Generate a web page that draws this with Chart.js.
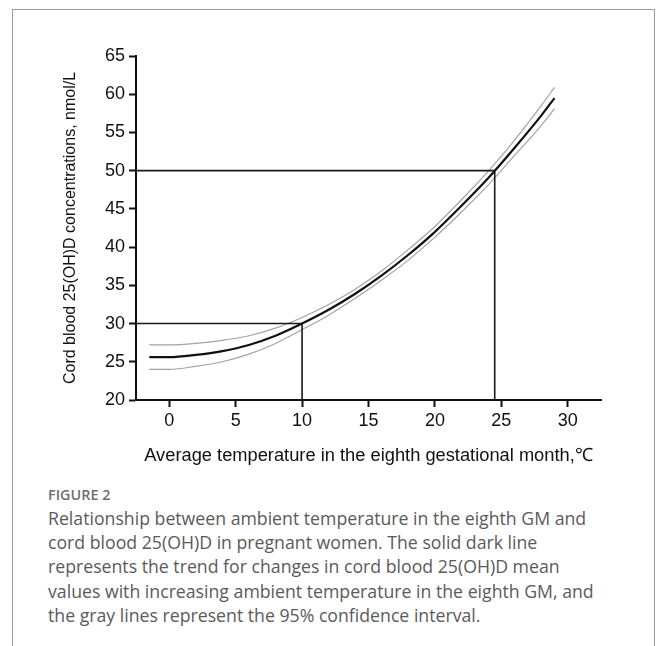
<!DOCTYPE html>
<html>
<head>
<meta charset="utf-8">
<script src="https://cdn.jsdelivr.net/npm/chart.js@4"></script>
<style>
  html, body { margin: 0; padding: 0; background: #fff; }
  body { width: 657px; height: 646px; position: relative; overflow: hidden; }
  #frame {
    position: absolute; left: 12px; top: 9px; width: 641px; height: 700px;
    border: 1.5px solid #9a9a9a; border-bottom: none;
  }
  #chart-wrap { position: absolute; left: 0; top: 0; width: 657px; height: 470px; }
  #caption-label {
    position: absolute; left: 48px; top: 486px;
    font-family: "Open Sans", sans-serif; font-size: 14.4px; font-weight: 600;
    color: #6e6e6e; line-height: 18px;
  }
  #caption-text {
    position: absolute; left: 48px; top: 506px;
    font-family: "Open Sans", sans-serif; font-size: 17.7px;
    color: #5a5a5a; line-height: 24.2px; white-space: nowrap;
  }
</style>
</head>
<body>
<div id="frame"></div>
<div id="chart-wrap"><canvas id="cord-chart" width="657" height="470"></canvas></div>
<div id="caption-label">FIGURE 2</div>
<div id="caption-text">Relationship between ambient temperature in the eighth GM and<br>cord blood 25(OH)D in pregnant women. The solid dark line<br>represents the trend for changes in cord blood 25(OH)D mean<br>values with increasing ambient temperature in the eighth GM, and<br>the gray lines represent the 95% confidence interval.</div>

<script>
// Temperature in the eighth gestational month (deg C) and cord blood 25(OH)D, nmol/L
const temps = [-1.5, 0, 2, 4, 6, 8, 10, 12, 14, 16, 18, 20, 22, 24, 26, 28, 29];
const meanLevel = [25.6, 25.6, 25.9, 26.4, 27.2, 28.4, 30.0, 31.8, 33.9, 36.3, 39.0, 42.0, 45.4, 49.0, 53.0, 57.2, 59.5];
const upperCI = [27.2, 27.2, 27.4, 27.8, 28.4, 29.4, 30.8, 32.5, 34.5, 36.9, 39.7, 42.7, 46.2, 49.9, 54.0, 58.5, 60.9];
const lowerCI = [24.0, 24.0, 24.4, 25.0, 26.0, 27.4, 29.2, 31.1, 33.3, 35.7, 38.3, 41.3, 44.6, 48.1, 52.0, 55.9, 58.1];

// guide lines: temperature where the mean reaches each level
const cutoffTemps = [10, 24.5];
const cutoffLevels = [30, 50];

const xTicks = [0, 5, 10, 15, 20, 25, 30];
const yTicks = [20, 25, 30, 35, 40, 45, 50, 55, 60, 65];
const xMin = -2.5, xMax = 32.5;
const yMin = 20, yMax = 65;

const fontFamily = 'Liberation Sans, Arial, sans-serif';

function toPoints(xs, ys) {
    return xs.map((x, i) => ({ x: x, y: ys[i] }));
}

const guideSets = cutoffTemps.map((t, i) => ({
    data: [{ x: xMin, y: cutoffLevels[i] }, { x: t, y: cutoffLevels[i] }, { x: t, y: yMin }],
    borderColor: '#1a1a1a',
    borderWidth: 1.6,
    pointRadius: 0,
    tension: 0
}));

const curveStyle = { pointRadius: 0, cubicInterpolationMode: 'monotone', fill: false };

const ctx = document.getElementById('cord-chart').getContext('2d');
new Chart(ctx, {
    type: 'line',
    data: {
        datasets: [
            ...guideSets,
            Object.assign({ data: toPoints(temps, upperCI), borderColor: '#a3a3a3', borderWidth: 1.2 }, curveStyle),
            Object.assign({ data: toPoints(temps, lowerCI), borderColor: '#a3a3a3', borderWidth: 1.2 }, curveStyle),
            Object.assign({ data: toPoints(temps, meanLevel), borderColor: '#111111', borderWidth: 2.2 }, curveStyle)
        ]
    },
    options: {
        responsive: false,
        animation: false,
        layout: { padding: { left: 57, right: 56, top: 56, bottom: 0 } },
        plugins: {
            legend: { display: false },
            tooltip: { enabled: false }
        },
        scales: {
            x: {
                type: 'linear',
                min: xMin,
                max: xMax,
                afterBuildTicks: (scale) => { scale.ticks = xTicks.map(v => ({ value: v })); },
                afterFit: (scale) => { scale.height = 70; },
                ticks: { color: '#111', font: { family: fontFamily, size: 18 }, padding: 3, maxRotation: 0 },
                grid: { drawOnChartArea: false, drawTicks: true, tickLength: 7, tickWidth: 2, tickColor: '#111' },
                border: { display: true, color: '#111', width: 2 },
                title: {
                    display: true,
                    text: 'Average temperature in the eighth gestational month,\u2103',
                    color: '#111',
                    font: { family: fontFamily, size: 18.3 },
                    padding: { top: 4, bottom: 3 }
                }
            },
            y: {
                type: 'linear',
                min: yMin,
                max: yMax,
                afterBuildTicks: (scale) => { scale.ticks = yTicks.map(v => ({ value: v })); },
                afterFit: (scale) => { scale.width = 79; },
                ticks: { color: '#111', font: { family: fontFamily, size: 18 }, padding: 4 },
                grid: { drawOnChartArea: false, drawTicks: true, tickLength: 7, tickWidth: 2, tickColor: '#111' },
                border: { display: true, color: '#111', width: 2 },
                title: {
                    display: true,
                    text: 'Cord blood 25(OH)D concentrations, nmol/L',
                    color: '#111',
                    font: { family: fontFamily, size: 16 },
                    padding: { top: 4, bottom: 4 }
                }
            }
        }
    }
});
</script>
</body>
</html>
